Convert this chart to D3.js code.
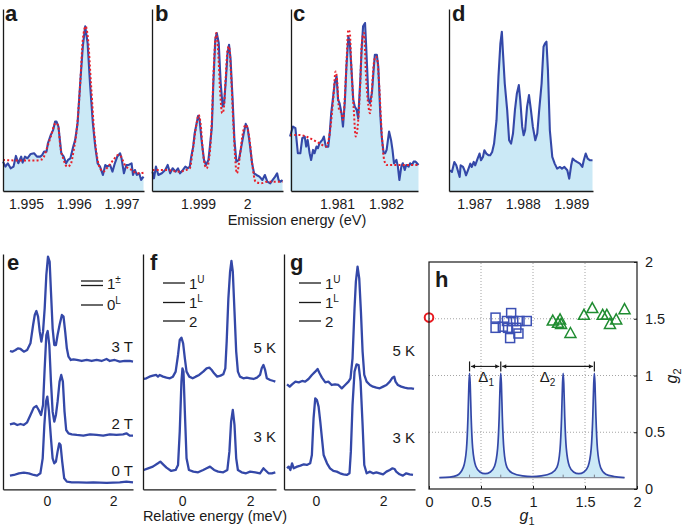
<!DOCTYPE html>
<html><head><meta charset="utf-8">
<script src="https://cdn.jsdelivr.net/npm/d3@7"></script>
<style>body{margin:0;background:#fff}svg{display:block}</style>
</head><body>
<svg id="c" width="685" height="532"></svg>
<script>
// ---------------- DATA ----------------
// Panel a: emission energy (eV), measured intensity (a.u.), fit
const aEnergy = [1.99452,1.99457,1.99462,1.99468,1.99474,1.99479,1.99484,1.99490,1.99493,1.99498,1.99503,1.99510,1.99517,1.99523,1.99530,1.99534,1.99538,1.99543,1.99546,1.99552,1.99557,1.99561,1.99564,1.99568,1.99571,1.99574,1.99579,1.99584,1.99588,1.99593,1.99599,1.99603,1.99608,1.99614,1.99619,1.99624,1.99629,1.99634,1.99640,1.99645,1.99650,1.99655,1.99661,1.99666,1.99670,1.99676,1.99681,1.99686,1.99691,1.99697,1.99700,1.99705,1.99710,1.99715,1.99721,1.99724,1.99728,1.99732,1.99737,1.99741,1.99746];
const aSignal = [88,73,83,68,73,105,83,103,85,103,98,111,113,103,103,108,118,118,143,168,183,208,208,193,153,113,103,83,93,98,133,153,203,333,433,493,443,323,203,133,83,73,48,78,73,78,58,83,103,113,98,53,78,78,83,48,63,48,53,33,43];
const aFitEnergy = [1.99452,1.99490,1.99517,1.99534,1.99545,1.99552,1.99562,1.99567,1.99572,1.99579,1.99586,1.99593,1.99600,1.99607,1.99614,1.99619,1.99625,1.99630,1.99636,1.99643,1.99650,1.99655,1.99662,1.99669,1.99683,1.99693,1.99698,1.99707,1.99721,1.99734,1.99746];
const aFit = [93,91,91,95,133,163,203,198,133,93,73,78,123,193,333,453,493,453,323,173,93,68,58,68,93,108,105,78,63,53,55];
const aTicks = [1.995,1.996,1.997];

// Panel b
const bEnergy = [1.99807,1.99810,1.99814,1.99819,1.99826,1.99833,1.99838,1.99843,1.99848,1.99854,1.99859,1.99863,1.99869,1.99874,1.99879,1.99883,1.99886,1.99890,1.99893,1.99897,1.99900,1.99903,1.99907,1.99912,1.99916,1.99921,1.99924,1.99928,1.99931,1.99935,1.99938,1.99942,1.99946,1.99950,1.99953,1.99957,1.99960,1.99963,1.99966,1.99970,1.99974,1.99978,1.99983,1.99988,1.99993,1.99997,2.00001,2.00006,2.00010,2.00014,2.00019,2.00025,2.00031,2.00036,2.00041,2.00047,2.00052,2.00057,2.00061,2.00064,2.00068,2.00072];
const bSignal = [58,38,73,48,53,63,78,53,68,58,68,53,63,73,68,73,103,133,173,203,225,213,153,93,78,93,133,193,323,453,473,443,323,253,263,343,413,438,398,283,153,88,93,133,173,201,188,133,83,53,48,43,33,48,28,23,33,43,53,33,28,33];
const bFitEnergy = [1.99807,1.99834,1.99862,1.99876,1.99883,1.99890,1.99897,1.99901,1.99905,1.99910,1.99917,1.99923,1.99928,1.99932,1.99937,1.99941,1.99945,1.99949,1.99952,1.99956,1.99960,1.99963,1.99967,1.99972,1.99979,1.99985,1.99990,1.99997,2.00004,2.00010,2.00017,2.00028,2.00041,2.00055,2.00072];
const bFit = [63,63,58,63,68,133,203,228,203,113,68,103,213,373,473,413,293,233,243,333,423,433,353,193,53,103,163,198,163,83,28,23,28,28,28];
const bTicks = [1.999,2];

// Panel c
const cEnergy = [1.98004,1.98010,1.98015,1.98020,1.98025,1.98029,1.98034,1.98037,1.98040,1.98044,1.98047,1.98051,1.98054,1.98058,1.98061,1.98064,1.98070,1.98073,1.98077,1.98082,1.98085,1.98088,1.98092,1.98095,1.98099,1.98102,1.98105,1.98109,1.98112,1.98116,1.98119,1.98123,1.98126,1.98129,1.98133,1.98136,1.98140,1.98143,1.98147,1.98150,1.98153,1.98157,1.98159,1.98162,1.98164,1.98167,1.98171,1.98174,1.98177,1.98181,1.98184,1.98188,1.98191,1.98195,1.98198,1.98201,1.98206,1.98210,1.98213,1.98216,1.98221,1.98224,1.98227,1.98231,1.98234,1.98238,1.98241,1.98246,1.98249,1.98253,1.98256,1.98260,1.98263,1.98266];
const cSignal = [163,193,188,113,113,158,163,133,153,113,93,123,113,133,128,143,153,163,133,133,173,233,283,323,343,273,263,233,193,273,373,463,443,373,273,253,243,218,323,423,493,503,443,343,273,263,293,353,408,408,373,233,163,113,113,123,178,153,123,83,93,73,33,73,83,63,78,73,83,78,88,88,83,78];
const cFitEnergy = [1.98004,1.98023,1.98037,1.98051,1.98064,1.98078,1.98085,1.98092,1.98097,1.98100,1.98104,1.98109,1.98112,1.98118,1.98123,1.98126,1.98129,1.98134,1.98138,1.98142,1.98147,1.98151,1.98155,1.98159,1.98164,1.98167,1.98171,1.98175,1.98179,1.98182,1.98186,1.98191,1.98196,1.98201,1.98215,1.98242,1.98266];
const cFit = [168,168,163,153,143,133,173,273,358,333,243,233,213,343,483,473,373,243,163,193,313,453,473,343,253,233,303,383,403,393,313,173,93,78,78,78,78];
const cTicks = [1.981,1.982];

// Panel d
const dEnergy = [1.98650,1.98654,1.98659,1.98663,1.98666,1.98670,1.98672,1.98677,1.98680,1.98683,1.98687,1.98692,1.98695,1.98699,1.98702,1.98707,1.98711,1.98714,1.98718,1.98721,1.98725,1.98730,1.98733,1.98737,1.98741,1.98746,1.98750,1.98754,1.98757,1.98759,1.98763,1.98768,1.98772,1.98776,1.98780,1.98784,1.98788,1.98792,1.98795,1.98799,1.98802,1.98805,1.98809,1.98813,1.98817,1.98821,1.98826,1.98830,1.98834,1.98839,1.98843,1.98846,1.98849,1.98852,1.98856,1.98861,1.98866,1.98871,1.98877,1.98881,1.98886,1.98892,1.98896,1.98900,1.98903,1.98907,1.98912,1.98918,1.98923,1.98926,1.98930,1.98934,1.98939,1.98944];
const dSignal = [62,57,87,77,62,42,77,72,62,47,62,82,72,87,77,97,112,92,102,122,112,107,107,117,142,212,342,442,477,422,322,242,152,142,172,242,292,317,272,192,167,182,252,287,242,192,152,172,242,322,432,442,447,362,182,102,82,67,72,67,72,62,37,77,97,92,87,82,72,92,112,97,92,92];
const dTicks = [1.987,1.988,1.989];

// Panel e: relative energy (meV), spectra at 3 T, 2 T, 0 T (vertically offset, a.u.)
const e3TEnergy = [-1.12,-1.05,-0.95,-0.88,-0.80,-0.70,-0.60,-0.50,-0.42,-0.37,-0.32,-0.27,-0.22,-0.17,-0.12,-0.07,-0.02,0.03,0.08,0.12,0.17,0.22,0.27,0.32,0.38,0.45,0.50,0.55,0.60,0.65,0.72,0.80,0.90,1.05,1.20,1.35,1.50,1.65,1.80,1.90,2.05,2.20,2.35,2.50,2.60];
const e3TSignal = [415,413,418,423,421,413,418,438,493,523,535,518,473,443,473,543,643,698,683,593,483,433,433,463,493,523,518,473,423,398,388,390,388,385,388,385,388,385,391,385,388,383,385,385,383];
const e2TEnergy = [-1.12,-1.00,-0.90,-0.80,-0.70,-0.60,-0.50,-0.40,-0.32,-0.25,-0.18,-0.12,-0.07,-0.02,0.02,0.07,0.12,0.17,0.22,0.27,0.32,0.38,0.43,0.48,0.53,0.58,0.65,0.75,0.90,1.10,1.30,1.50,1.70,1.90,2.10,2.30,2.40,2.50,2.60];
const e2TSignal = [195,198,193,196,193,201,223,245,250,238,223,253,363,463,475,433,323,233,203,223,263,323,343,323,233,178,168,165,163,161,165,163,161,165,163,165,168,161,161];
const e0TEnergy = [-1.12,-1.00,-0.85,-0.70,-0.55,-0.40,-0.30,-0.20,-0.13,-0.08,-0.03,0.01,0.06,0.12,0.17,0.22,0.27,0.32,0.37,0.41,0.46,0.52,0.60,0.75,0.95,1.20,1.40,1.60,1.80,2.00,2.20,2.40,2.60];
const e0TSignal = [41,43,48,50,48,43,41,48,93,193,263,278,233,153,93,78,83,113,138,133,83,33,23,21,21,20,21,20,19,20,21,23,21];
const eLabels = ["3 T","2 T","0 T"];

// Panel f: spectra at 5 K and 3 K
const f5KEnergy = [-1.13,-1.05,-0.96,-0.86,-0.76,-0.71,-0.66,-0.56,-0.46,-0.36,-0.27,-0.19,-0.12,-0.07,-0.02,0.03,0.08,0.13,0.21,0.31,0.40,0.50,0.62,0.72,0.80,0.87,0.94,1.03,1.13,1.21,1.27,1.31,1.36,1.41,1.45,1.49,1.54,1.59,1.64,1.70,1.80,1.90,2.00,2.10,2.20,2.29,2.34,2.39,2.44,2.49,2.59,2.69,2.74];
const f5KSignal = [331,333,338,341,343,338,343,338,335,333,338,353,403,448,455,438,393,353,338,333,338,343,353,363,365,358,348,338,341,345,363,443,573,653,685,653,533,413,353,338,333,335,333,331,335,343,363,373,358,333,328,325,323];
const f3KEnergy = [-1.13,-1.00,-0.86,-0.71,-0.64,-0.56,-0.46,-0.32,-0.19,-0.12,-0.07,-0.02,0.01,0.04,0.08,0.13,0.20,0.33,0.47,0.62,0.72,0.82,0.94,1.06,1.21,1.33,1.39,1.44,1.49,1.54,1.59,1.64,1.75,1.88,2.00,2.15,2.29,2.39,2.44,2.54,2.64,2.74];
const f3KSignal = [58,63,68,78,83,75,65,55,58,73,173,323,363,353,233,93,58,53,51,58,63,68,58,53,51,58,113,203,238,193,93,58,51,48,53,51,48,63,58,48,48,51];

// Panel g: spectra at 5 K and 3 K
const g5KEnergy = [-0.86,-0.78,-0.71,-0.61,-0.51,-0.41,-0.32,-0.22,-0.12,-0.02,0.05,0.11,0.18,0.28,0.37,0.47,0.57,0.67,0.77,0.87,0.97,1.03,1.09,1.15,1.19,1.24,1.29,1.34,1.39,1.44,1.51,1.61,1.70,1.80,1.90,2.00,2.10,2.20,2.28,2.33,2.37,2.44,2.54,2.64,2.74,2.84,2.92];
const g5KSignal = [315,308,315,323,321,325,323,331,343,353,361,348,335,321,323,313,315,313,303,313,323,333,393,543,623,668,633,533,413,343,323,313,308,305,303,308,313,323,335,338,323,313,308,305,303,303,301];
const g3KEnergy = [-0.86,-0.81,-0.76,-0.71,-0.66,-0.56,-0.46,-0.36,-0.27,-0.17,-0.12,-0.07,-0.02,0.03,0.08,0.13,0.18,0.23,0.33,0.42,0.52,0.62,0.72,0.82,0.92,1.00,1.04,1.09,1.15,1.21,1.27,1.33,1.39,1.44,1.51,1.61,1.70,1.80,1.90,2.00,2.10,2.20,2.28,2.34,2.39,2.49,2.59,2.69,2.79,2.89];
const g3KSignal = [63,68,58,78,63,68,71,75,73,78,103,213,273,268,248,203,153,103,78,63,55,53,48,45,43,48,113,253,353,375,373,323,193,73,48,53,48,51,48,45,53,58,63,61,53,45,41,48,45,43];
const tempLabels = ["5 K","3 K"];
const relTicks = [0,2];

// Panel h
const hSquareG1 = [0.64,0.79,0.64,0.71,0.76,0.81,0.87,0.94,0.84,0.78,0.86,0.75];
const hSquareG2 = [1.51,1.55,1.42,1.43,1.42,1.48,1.48,1.48,1.42,1.33,1.37,1.48];
const hTriG1 = [1.19,1.24,1.26,1.27,1.36,1.49,1.57,1.67,1.71,1.74,1.80,1.88];
const hTriG2 = [1.48,1.46,1.49,1.45,1.37,1.53,1.59,1.53,1.53,1.45,1.49,1.58];
const hCircleG1 = [0];
const hCircleG2 = [1.51];
const hCurveG1 = [0.10,0.20,0.27,0.33,0.36,0.375,0.384,0.39,0.396,0.405,0.42,0.45,0.49,0.54,0.59,0.63,0.66,0.675,0.684,0.69,0.696,0.705,0.72,0.75,0.80,0.90,0.99,1.08,1.18,1.23,1.26,1.275,1.284,1.29,1.296,1.305,1.32,1.35,1.39,1.44,1.49,1.53,1.56,1.575,1.584,1.59,1.596,1.605,1.62,1.65,1.70,1.78,1.88];
const hCurveVal = [0.10,0.105,0.12,0.19,0.35,0.64,0.93,1.02,0.93,0.64,0.36,0.20,0.15,0.135,0.15,0.20,0.36,0.64,0.93,1.02,0.93,0.64,0.35,0.19,0.14,0.115,0.11,0.115,0.14,0.19,0.35,0.64,0.93,1.02,0.93,0.64,0.36,0.20,0.15,0.135,0.15,0.20,0.36,0.64,0.93,1.02,0.93,0.64,0.35,0.19,0.13,0.11,0.10];
const hBaseline = 0.10;
const hPeaks = [0.39,0.69,1.29,1.59];
const hDeltaLevel = 1.08;
const hTicks = [0,0.5,1,1.5,2];
const hGrid = [0.5,1,1.5];

// ---------------- DRAW ----------------
const FONT = "'Liberation Sans', Arial, Helvetica, sans-serif";
const BLUE = "#3448a8", FILL = "#cbe9f6", RED = "#e8202a", INK = "#1a1a1a";
const svg = d3.select("#c").style("font-family", FONT);
const zip = (xs, ys) => xs.map((x, i) => [x, ys[i]]);

function panelLetter(ch, x, y) {
  svg.append("text").attr("x", x).attr("y", y).attr("font-size", 22).attr("font-weight", "bold")
    .attr("fill", INK).text(ch);
}

function axesFrame(x, y, ticks, fmt, pad) {
  const gx = svg.append("g").attr("transform", `translate(0,${y.range()[0]})`)
    .call(d3.axisBottom(x).tickValues(ticks).tickFormat(fmt).tickSize(0).tickSizeOuter(0).tickPadding(pad));
  gx.select(".domain").attr("stroke", INK).attr("stroke-width", 1.3);
  gx.selectAll("text").attr("font-size", 14).attr("fill", INK).attr("font-family", FONT);
  const gy = svg.append("g").attr("transform", `translate(${x.range()[0]},0)`)
    .call(d3.axisLeft(y).tickValues([]).tickSizeOuter(0));
  gy.select(".domain").attr("stroke", INK).attr("stroke-width", 1.3);
}

// Top row (a-d)
const topPanels = [
  {L:"a", px:[3,144], dom:[1.99452,1.99747], E:aEnergy, S:aSignal, fE:aFitEnergy, F:aFit, ticks:aTicks, lx:5},
  {L:"b", px:[152,283], dom:[1.99806,2.00073], E:bEnergy, S:bSignal, fE:bFitEnergy, F:bFit, ticks:bTicks, lx:155},
  {L:"c", px:[291,418], dom:[1.98006,1.98265], E:cEnergy, S:cSignal, fE:cFitEnergy, F:cFit, ticks:cTicks, lx:293},
  {L:"d", px:[449,593], dom:[1.98648,1.98945], E:dEnergy, S:dSignal, fE:null, F:null, ticks:dTicks, lx:452},
];
topPanels.forEach(p => {
  const x = d3.scaleLinear().domain(p.dom).range(p.px);
  const y = d3.scaleLinear().domain([0, 545]).range([191, 9]);
  const pts = zip(p.E, p.S);
  svg.append("path").datum(pts).attr("fill", FILL)
    .attr("d", d3.area().x(d => x(d[0])).y0(y(0)).y1(d => y(d[1])));
  svg.append("path").datum(pts).attr("fill", "none").attr("stroke", BLUE).attr("stroke-width", 2.1)
    .attr("stroke-linejoin", "round")
    .attr("d", d3.line().x(d => x(d[0])).y(d => y(d[1])));
  if (p.fE) {
    svg.append("path").datum(zip(p.fE, p.F)).attr("fill", "none").attr("stroke", RED)
      .attr("stroke-width", 2).attr("stroke-dasharray", "2,2.2")
      .attr("d", d3.line().curve(d3.curveMonotoneX).x(d => x(d[0])).y(d => y(d[1])));
  }
  axesFrame(x, y, p.ticks, d => String(d), 8);
  panelLetter(p.L, p.lx, 21);
});
svg.append("text").attr("x", 297).attr("y", 225).attr("text-anchor", "middle")
  .attr("font-size", 14.5).attr("fill", INK).text("Emission energy (eV)");

// Bottom row (e-g)
const yB = d3.scaleLinear().domain([0, 706]).range([489.3, 254]);
const botPanels = [
  {L:"e", px:[3,133], dom:[-1.33,2.6], lx:7, series:[[e3TEnergy,e3TSignal],[e2TEnergy,e2TSignal],[e0TEnergy,e0TSignal]],
   labels:eLabels, labelY:[352,429,476]},
  {L:"f", px:[143,276], dom:[-1.15,2.76], lx:150, series:[[f5KEnergy,f5KSignal],[f3KEnergy,f3KSignal]],
   labels:tempLabels, labelY:[353,442]},
  {L:"g", px:[284,415], dom:[-0.95,2.95], lx:290, series:[[g5KEnergy,g5KSignal],[g3KEnergy,g3KSignal]],
   labels:tempLabels, labelY:[356,443]},
];
botPanels.forEach(p => {
  const x = d3.scaleLinear().domain(p.dom).range(p.px);
  p.series.forEach(s => {
    svg.append("path").datum(zip(s[0], s[1])).attr("fill", "none").attr("stroke", BLUE)
      .attr("stroke-width", 2.3).attr("stroke-linejoin", "round")
      .attr("d", d3.line().x(d => x(d[0])).y(d => yB(d[1])));
  });
  p.labels.forEach((t, i) => {
    svg.append("text").attr("x", p.px[1]).attr("y", p.labelY[i]).attr("text-anchor", "end")
      .attr("font-size", 15).attr("fill", INK).text(t);
  });
  axesFrame(x, yB, relTicks, d => String(d), 7);
  panelLetter(p.L, p.lx, 270);
});
svg.append("text").attr("x", 215).attr("y", 521).attr("text-anchor", "middle")
  .attr("font-size", 14.5).attr("fill", INK).text("Relative energy (meV)");

// legends
function legendLine(x1, x2, y) {
  svg.append("line").attr("x1", x1).attr("x2", x2).attr("y1", y).attr("y2", y)
    .attr("stroke", INK).attr("stroke-width", 1.3);
}
function legendText(x, y, main, sup) {
  const t = svg.append("text").attr("x", x).attr("y", y).attr("font-size", 15).attr("fill", INK);
  t.append("tspan").text(main);
  if (sup) t.append("tspan").attr("dy", -6).attr("font-size", 10).text(sup);
}
legendLine(81, 103, 281); legendLine(81, 103, 285.5);
legendText(107, 289, "1", "\u00B1");
legendLine(81, 103, 305); legendText(107, 310, "0", "L");
[[163,185,189],[299,321,325]].forEach(([a,b,tx]) => {
  legendLine(a, b, 283); legendText(tx, 288.5, "1", "U");
  legendLine(a, b, 302.5); legendText(tx, 308, "1", "L");
  legendLine(a, b, 321); legendText(tx, 326.5, "2", null);
});

// Panel h
const hx = d3.scaleLinear().domain([0, 2]).range([429, 637]);
const hy = d3.scaleLinear().domain([0, 2]).range([489, 262]);
const hg = svg.append("g");
hGrid.forEach(v => {
  hg.append("line").attr("x1", hx(v)).attr("x2", hx(v)).attr("y1", hy(0)).attr("y2", hy(2))
    .attr("stroke", "#9a9a9a").attr("stroke-width", 0.9).attr("stroke-dasharray", "1,2");
  hg.append("line").attr("x1", hx(0)).attr("x2", hx(2)).attr("y1", hy(v)).attr("y2", hy(v))
    .attr("stroke", "#9a9a9a").attr("stroke-width", 0.9).attr("stroke-dasharray", "1,2");
});
const curve = zip(hCurveG1, hCurveVal);
hg.append("path").datum(curve).attr("fill", FILL)
  .attr("d", d3.area().curve(d3.curveMonotoneX).x(d => hx(d[0])).y0(hy(hBaseline)).y1(d => hy(d[1])));
hg.append("line").attr("x1", hx(hCurveG1[0])).attr("x2", hx(hCurveG1[hCurveG1.length-1]))
  .attr("y1", hy(hBaseline)).attr("y2", hy(hBaseline)).attr("stroke", "#8a8f9a").attr("stroke-width", 1.2);
hPeaks.forEach(p => {
  hg.append("line").attr("x1", hx(p)).attr("x2", hx(p)).attr("y1", hy(hBaseline)).attr("y2", hy(hBaseline) - 3)
    .attr("stroke", "#7a7f8a").attr("stroke-width", 1);
});
hg.append("path").datum(curve).attr("fill", "none").attr("stroke", BLUE).attr("stroke-width", 1.7)
  .attr("d", d3.line().curve(d3.curveMonotoneX).x(d => hx(d[0])).y(d => hy(d[1])));

// Delta arrows
const dy0 = hy(hDeltaLevel);
function arrowSeg(a, b) {
  const xa = hx(a) + 1.5, xb = hx(b) - 1.5;
  hg.append("line").attr("x1", xa).attr("x2", xb).attr("y1", dy0).attr("y2", dy0)
    .attr("stroke", INK).attr("stroke-width", 1.1);
  hg.append("path").attr("d", `M${xa},${dy0}l4,-2.2v4.4z`).attr("fill", INK);
  hg.append("path").attr("d", `M${xb},${dy0}l-4,-2.2v4.4z`).attr("fill", INK);
}
arrowSeg(hPeaks[0], hPeaks[1]);
arrowSeg(hPeaks[1], hPeaks[3]);
[hPeaks[0], hPeaks[1], hPeaks[3]].forEach(p => {
  hg.append("line").attr("x1", hx(p)).attr("x2", hx(p)).attr("y1", dy0 - 5).attr("y2", dy0 + 5)
    .attr("stroke", INK).attr("stroke-width", 1.2);
});
function deltaLabel(x, sub) {
  const t = hg.append("text").attr("x", x).attr("y", 382).attr("text-anchor", "middle")
    .attr("font-size", 15).attr("fill", INK);
  t.append("tspan").text("\u0394");
  t.append("tspan").attr("dy", 4).attr("font-size", 10).text(sub);
}
deltaLabel(hx((hPeaks[0] + hPeaks[1]) / 2) + 1, "1");
deltaLabel(hx(1.14), "2");

// markers
zip(hSquareG1, hSquareG2).forEach(d => {
  hg.append("rect").attr("x", hx(d[0]) - 4.5).attr("y", hy(d[1]) - 4.5).attr("width", 9).attr("height", 9)
    .attr("fill", "none").attr("stroke", "#3c50b4").attr("stroke-width", 1.5);
});
zip(hTriG1, hTriG2).forEach(d => {
  const cx = hx(d[0]), cy = hy(d[1]);
  hg.append("path").attr("d", `M${cx},${cy-6}L${cx+5.5},${cy+4}L${cx-5.5},${cy+4}Z`)
    .attr("fill", "none").attr("stroke", "#1f8c31").attr("stroke-width", 1.5);
});
zip(hCircleG1, hCircleG2).forEach(d => {
  hg.append("circle").attr("cx", hx(d[0])).attr("cy", hy(d[1])).attr("r", 4.3)
    .attr("fill", "none").attr("stroke", "#e8191f").attr("stroke-width", 2);
});

// frame & axes
hg.append("rect").attr("x", hx(0)).attr("y", hy(2)).attr("width", hx(2) - hx(0)).attr("height", hy(0) - hy(2))
  .attr("fill", "none").attr("stroke", INK).attr("stroke-width", 1.2);
const hax = hg.append("g").attr("transform", `translate(0,${hy(0)})`)
  .call(d3.axisBottom(hx).tickValues(hTicks).tickFormat(d => String(d)).tickSizeInner(-3).tickSizeOuter(0).tickPadding(8));
hax.select(".domain").remove();
hax.selectAll("line").attr("stroke", INK);
hax.selectAll("text").attr("font-size", 14.5).attr("fill", INK).attr("font-family", FONT);
const hay = hg.append("g").attr("transform", `translate(${hx(2)},0)`)
  .call(d3.axisRight(hy).tickValues(hTicks).tickFormat(d => String(d)).tickSizeInner(-3).tickSizeOuter(0).tickPadding(8));
hay.select(".domain").remove();
hay.selectAll("line").attr("stroke", INK);
hay.selectAll("text").attr("font-size", 14.5).attr("fill", INK).attr("font-family", FONT);
panelLetter("h", 435, 287);

const gx1 = svg.append("text").attr("x", 527).attr("y", 521).attr("text-anchor", "middle")
  .attr("font-size", 16).attr("fill", INK);
gx1.append("tspan").attr("font-style", "italic").text("g");
gx1.append("tspan").attr("dy", 4).attr("font-size", 11).text("1");
const gy2 = svg.append("text").attr("transform", `translate(677,376) rotate(-90)`).attr("text-anchor", "middle")
  .attr("font-size", 16).attr("fill", INK);
gy2.append("tspan").attr("font-style", "italic").text("g");
gy2.append("tspan").attr("dy", 4).attr("font-size", 11).text("2");
</script>
</body></html>
